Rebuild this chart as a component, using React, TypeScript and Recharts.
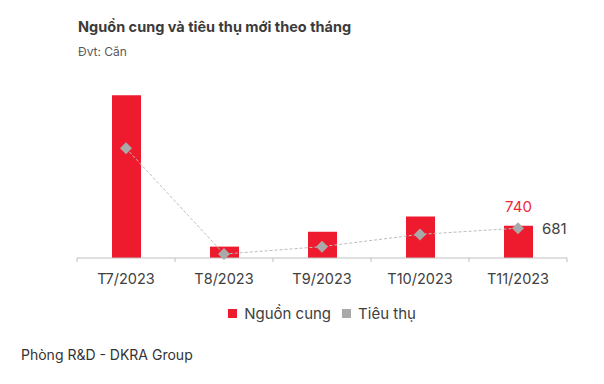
import React from "react";
import { ComposedChart, Bar, Line, XAxis, YAxis, Legend, LabelList } from "recharts";

const categories = ["T7/2023", "T8/2023", "T9/2023", "T10/2023", "T11/2023"];
const supply = [3720, 260, 600, 950, 740];
const consumption = [2510, 90, 260, 540, 681];

const data = categories.map((c, i) => ({ name: c, supply: supply[i], consumption: consumption[i] }));

const FONT = "Inter, 'Noto Sans', sans-serif";
const RED = "#EE1B2E";
const GREY = "#A9A9A9";

const Tick = (props: any) => {
  const { x, y, payload, index } = props;
  const off = payload.offset || 0;
  const last = index === categories.length - 1;
  return (
    <g>
      <line x1={x - off} x2={x - off} y1={y} y2={y + 4} stroke="#BFBFBF" />
      {last && <line x1={x + off} x2={x + off} y1={y} y2={y + 4} stroke="#BFBFBF" />}
      <text x={x} y={y + 26} textAnchor="middle" fill="#404040" fontSize={14.5} fontFamily={FONT}>
        {payload.value}
      </text>
    </g>
  );
};

const Diamond = (props: any) => {
  const { cx, cy } = props;
  if (cx == null || cy == null) return null;
  const r = 6;
  return <path d={`M${cx},${cy - r}L${cx + r},${cy}L${cx},${cy + r}L${cx - r},${cy}Z`} fill={GREY} />;
};

const SupplyLabel = (props: any) => {
  const { x, y, width, value, index } = props;
  if (index !== categories.length - 1) return null;
  return (
    <text x={x + width / 2} y={y - 14} textAnchor="middle" fill="#EE2A3A" fontSize={15} fontFamily={FONT}>
      {value}
    </text>
  );
};

const ConsLabel = (props: any) => {
  const { x, y, value, index } = props;
  if (index !== categories.length - 1) return null;
  return (
    <text x={x + 24} y={y + 6} textAnchor="start" fill="#404040" fontSize={15} fontFamily={FONT}>
      {value}
    </text>
  );
};

const LegendContent = () => (
  <div style={{ display: "flex", justifyContent: "center", alignItems: "center", height: 20, fontFamily: FONT, fontSize: 15, color: "#404040" }}>
    <span style={{ display: "inline-block", width: 9, height: 9, background: RED, marginRight: 7 }} />
    <span style={{ marginRight: 11 }}>Nguồn cung</span>
    <span style={{ display: "inline-block", width: 9, height: 9, background: GREY, marginRight: 7 }} />
    <span>Tiêu thụ</span>
  </div>
);

export default function App() {
  return (
    <div style={{ position: "absolute", left: 0, top: 0, width: 604, height: 384, background: "#fff", fontFamily: FONT }}>
      <div style={{ position: "absolute", left: 78, top: 18, fontSize: 14.5, fontWeight: 700, color: "#3B3B3B", whiteSpace: "nowrap" }}>
        Nguồn cung và tiêu thụ mới theo tháng
      </div>
      <div style={{ position: "absolute", left: 78, top: 44, fontSize: 12, color: "#595959", whiteSpace: "nowrap" }}>
        Đvt: Căn
      </div>
      <ComposedChart
        width={604}
        height={384}
        data={data}
        margin={{ top: 83, right: 37, left: 77, bottom: 76 }}
        style={{ position: "absolute", left: 0, top: 0 }}
      >
        <XAxis
          dataKey="name"
          axisLine={{ stroke: "#BFBFBF" }}
          tickLine={false}
          tickSize={0}
          tickMargin={0}
          height={30}
          tick={<Tick />}
          interval={0}
        />
        <YAxis hide domain={[0, 4000]} />
        <Legend verticalAlign="bottom" content={<LegendContent />} wrapperStyle={{ top: 303, bottom: "auto" }} />
        <Bar dataKey="supply" name="Nguồn cung" fill={RED} barSize={29} isAnimationActive={false}>
          <LabelList dataKey="supply" content={<SupplyLabel />} />
        </Bar>
        <Line
          dataKey="consumption"
          name="Tiêu thụ"
          stroke="#BDBDBD"
          strokeWidth={1}
          strokeDasharray="3 2"
          dot={<Diamond />}
          activeDot={false}
          isAnimationActive={false}
        >
          <LabelList dataKey="consumption" content={<ConsLabel />} />
        </Line>
      </ComposedChart>
      <div style={{ position: "absolute", left: 21, top: 346, fontSize: 14, color: "#333333", whiteSpace: "nowrap" }}>
        Phòng R&amp;D - DKRA Group
      </div>
    </div>
  );
}
